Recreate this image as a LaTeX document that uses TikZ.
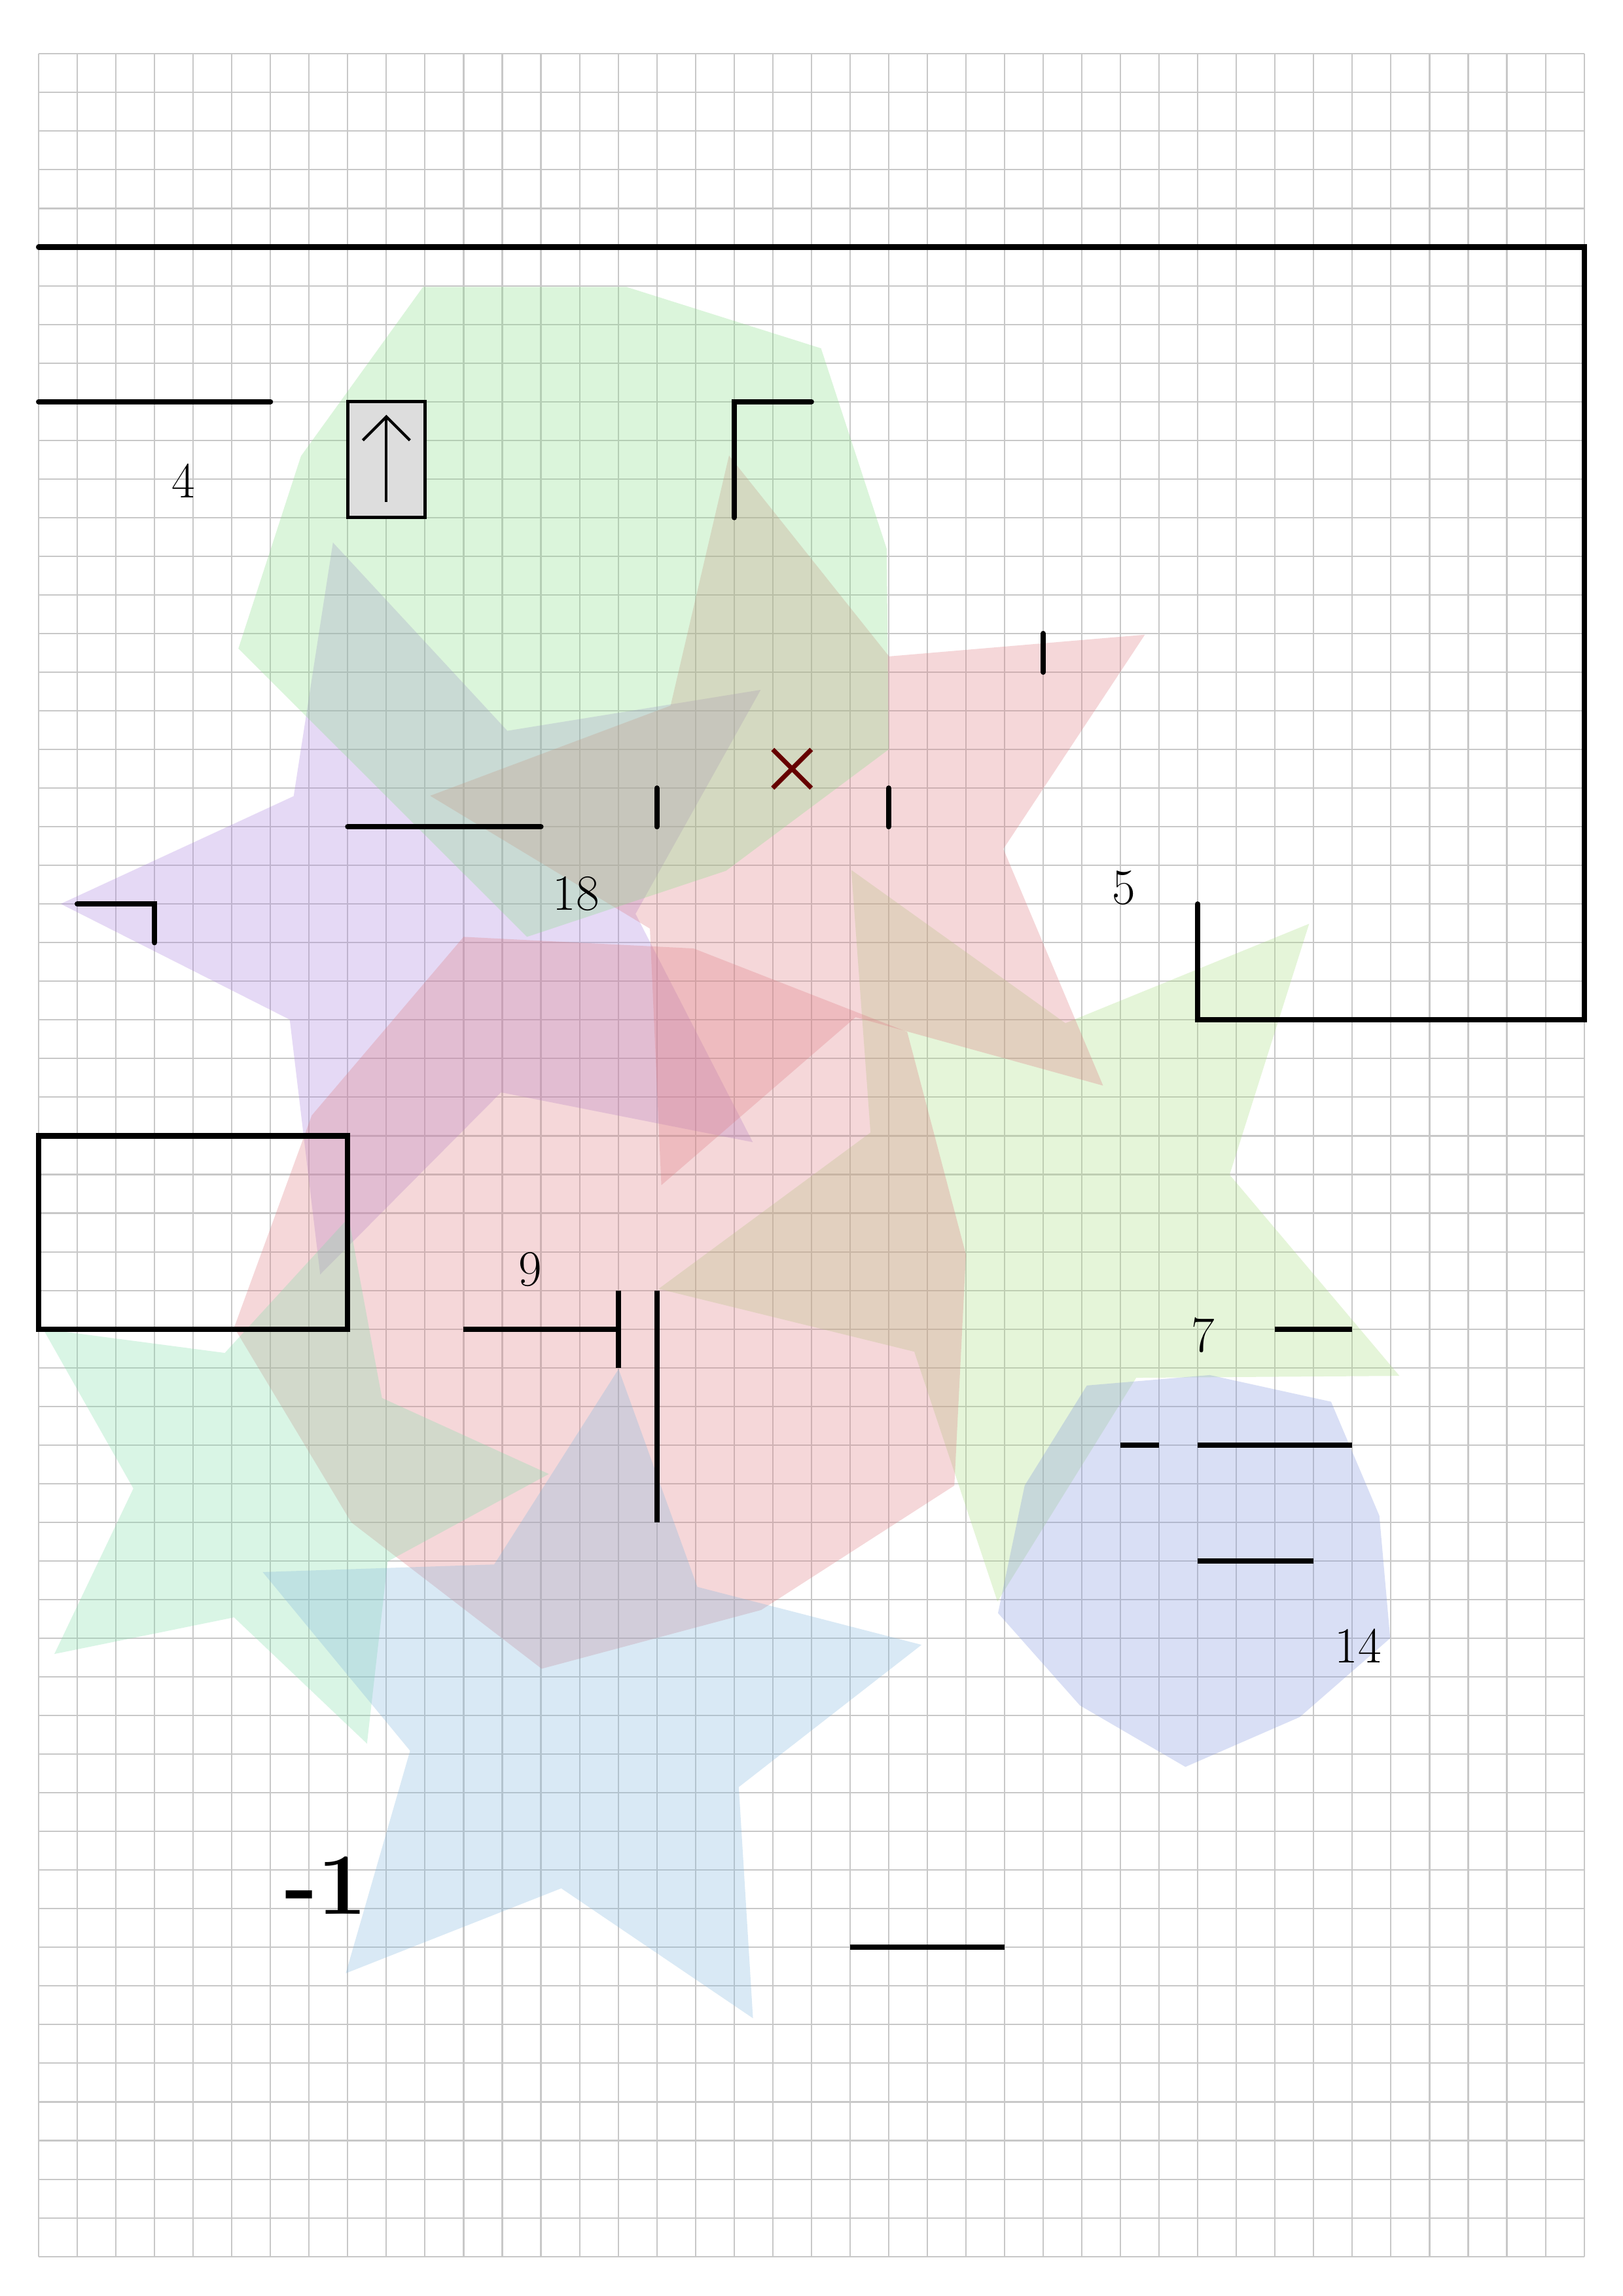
\documentclass[tikz,border=0pt]{standalone}
\usetikzlibrary{calc}
\definecolor{gridc}{RGB}{200,200,200}
\definecolor{cgreen}{RGB}{138,222,138}
\definecolor{cpink}{RGB}{222,125,132}
\definecolor{cpurple}{RGB}{172,132,222}
\definecolor{cyg}{RGB}{172,222,132}
\definecolor{cteal}{RGB}{132,222,172}
\definecolor{cblue}{RGB}{132,185,222}
\definecolor{clav}{RGB}{132,152,222}
\definecolor{cboxgray}{RGB}{221,221,221}
\definecolor{cxred}{RGB}{102,0,0}
\newcommand\mystar[6]{%
  \fill[#1] ({#2+#4*cos(#6)},{#3+#4*sin(#6)})
    \foreach \k in {1,...,9}{ -- ({#2+(#4+(#5-#4)*mod(\k,2))*cos(#6+36*\k)},{#3+(#4+(#5-#4)*mod(\k,2))*sin(#6+36*\k)}) } -- cycle;}
\begin{document}
\begin{tikzpicture}[x=0.5904cm,y=-0.5904cm,
  gridline/.style={draw=gridc,line width=0.6pt},
  tint/.style={fill=#1,fill opacity=0.3},
  blk/.style={draw=black,line width=2.3pt,line cap=round,line join=miter},
  blkb/.style={draw=black,line width=2.3pt,line cap=butt,line join=miter},
  lbl/.style={font=\fontsize{22}{26}\selectfont,inner sep=0pt},
  biglbl/.style={font=\fontsize{38}{44}\selectfont\bfseries,inner sep=0pt},
  arrowbox/.style={draw=black,line width=1.5pt,fill=cboxgray,minimum width=1.1808cm,minimum height=1.7712cm,inner sep=0pt}]
\useasboundingbox (-0.9993,-1.394) rectangle (41.006,58.023);
\fill[white] (-0.9993,-1.394) rectangle (41.006,58.023);
% grid
\foreach \i in {0,...,40} \draw[gridline] (\i,0) -- (\i,57);
\foreach \j in {0,...,57} \draw[gridline] (0,\j) -- (40,\j);
% translucent shapes
\mystar{tint=cpurple}{10.53}{22.17}{9.96}{4.92}{-107.0}
\mystar{tint=cyg}{26.0}{29.97}{10.15}{4.92}{-119.3}
\mystar{tint=cpink}{20.06}{20.12}{9.97}{4.93}{-102.7}
\fill[tint=cpink] (11.0,22.85) -- (16.95,23.15) -- (22.48,25.31) -- (24.0,31.07) -- (23.7,37.05) -- (18.7,40.27) -- (13.02,41.79) -- (8.09,38.0) -- (5.06,32.96) -- (7.07,27.47) -- cycle;
\fill[tint=cgreen] (9.95,6.03) -- (15.21,6.03) -- (20.25,7.62) -- (21.95,12.81) -- (22.0,18.0) -- (17.79,21.14) -- (12.64,22.85) -- (5.17,15.39) -- (6.79,10.41) -- cycle;
\mystar{tint=cteal}{6.05}{37.0}{7.16}{3.6}{-146}
\mystar{tint=cblue}{14.02}{43.0}{9.02}{4.5}{-155.7}
\fill[tint=clav] (27.13,34.46) -- (30.31,34.19) -- (33.45,34.88) -- (34.7,37.83) -- (34.98,41.0) -- (32.64,43.04) -- (29.68,44.33) -- (26.95,42.74) -- (24.83,40.35) -- (25.52,37.05) -- cycle;
% named points
\coordinate (f1) at (0,5); \coordinate (f2) at (40,5); \coordinate (f3) at (40,25); \coordinate (f4) at (30,25); \coordinate (f5) at (30,22);
\coordinate (a1) at (0,9); \coordinate (a2) at (6,9);
\coordinate (g1) at (20,9); \coordinate (g2) at (18,9); \coordinate (g3) at (18,12);
\coordinate (t1) at (26,15); \coordinate (t2) at (26,16);
\coordinate (h1) at (8,20); \coordinate (h2) at (13,20);
\coordinate (t3) at (16,19); \coordinate (t4) at (16,20);
\coordinate (t5) at (22,19); \coordinate (t6) at (22,20);
\coordinate (k1) at (1,22); \coordinate (k2) at (3,22); \coordinate (k3) at (3,23);
\coordinate (r1) at (0,28); \coordinate (r2) at (8,33);
\coordinate (m1) at (11,33); \coordinate (m2) at (15,33); \coordinate (m3) at (15,32); \coordinate (m4) at (15,34);
\coordinate (v1) at (16,32); \coordinate (v2) at (16,38);
\coordinate (s1) at (32,33); \coordinate (s2) at (34,33);
\coordinate (s3) at (28,36); \coordinate (s4) at (29,36);
\coordinate (s5) at (30,36); \coordinate (s6) at (34,36);
\coordinate (s7) at (30,39); \coordinate (s8) at (33,39);
\coordinate (b1) at (21,49); \coordinate (b2) at (25,49);
\coordinate (x1) at (19,18); \coordinate (x2) at (20,19); \coordinate (x3) at (20,18); \coordinate (x4) at (19,19);
% black strokes
\draw[blk] (f1) -- (f2) -- (f3) -- (f4) -- (f5);
\draw[blk] (a1) -- (a2);
\draw[blk] (g1) -- (g2) -- (g3);
\draw[blk] (t1) -- (t2);
\draw[blk] (h1) -- (h2);
\draw[blk] (t3) -- (t4);
\draw[blk] (t5) -- (t6);
\draw[blk] (k1) -- (k2) -- (k3);
\draw[blkb] (r1) rectangle (r2);
\draw[blkb] (m1) -- (m2);
\draw[blkb] (m3) -- (m4);
\draw[blkb] (v1) -- (v2);
\draw[blkb] (s1) -- (s2);
\draw[blkb] (s3) -- (s4);
\draw[blkb] (s5) -- (s6);
\draw[blkb] (s7) -- (s8);
\draw[blkb] (b1) -- (b2);
\draw[draw=cxred,line width=2pt] (x1) -- (x2) (x3) -- (x4);
% arrow box
\node[arrowbox] (abox) at (9,10.5) {};
\coordinate (ar1) at (9,11.6); \coordinate (ar2) at (9,9.39);
\coordinate (ar3) at (8.39,10.0); \coordinate (ar4) at (9.61,10.0);
\draw[line width=1.2pt] (ar1) -- (ar2);
\draw[line width=1.2pt,line join=miter] (ar3) -- (ar2) -- (ar4);
% labels
\node[lbl] (n4) at (3.75,11.05) {4};
\node[lbl] (n18) at (13.91,21.74) {18};
\node[lbl] (n5) at (28.08,21.58) {5};
\node[lbl] (n9) at (12.72,31.45) {9};
\node[lbl] (n7) at (30.14,33.15) {7};
\node[lbl] (n14) at (34.15,41.2) {14};
\node[biglbl] (nm1) at (7.43,47.4) {-1};
\end{tikzpicture}
\end{document}
